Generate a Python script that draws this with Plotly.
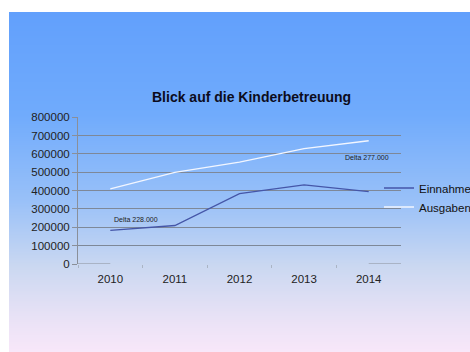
import plotly.graph_objects as go

years = ["2010", "2011", "2012", "2013", "2014"]
einnahmen = [183000, 210000, 384000, 431000, 395000]
ausgaben = [410000, 500000, 556000, 629000, 672000]
y_ticks = [0, 100000, 200000, 300000, 400000, 500000, 600000, 700000, 800000]
title_text = "Blick auf die Kinderbetreuung"
delta_texts = ["Delta 228.000", "Delta 277.000"]
delta_x = [0.02, 3.6]
delta_y = [240000, 581000]

W, H = 470, 352
FONT = "Liberation Sans, Arial, sans-serif"

# background gradient (top blue -> bottom pale pink)
grad_y = [i / 60 for i in range(61)]
grad_z = [[v, v] for v in grad_y]
grad_scale = [
    [0.0, "rgb(248,231,249)"],
    [0.1, "rgb(233,226,246)"],
    [0.25, "rgb(203,216,241)"],
    [0.45, "rgb(152,192,248)"],
    [0.7, "rgb(112,171,252)"],
    [1.0, "rgb(98,160,252)"],
]

fig = go.Figure()
fig.add_trace(go.Heatmap(
    x=[0, 1], y=grad_y, z=grad_z, colorscale=grad_scale, zsmooth="best",
    showscale=False, hoverinfo="skip", xaxis="x", yaxis="y", showlegend=False,
))

fig.add_trace(go.Scatter(
    x=years, y=einnahmen, mode="lines", name="Einnahmen",
    line=dict(color="#4556a8", width=1.3), xaxis="x2", yaxis="y2",
))
fig.add_trace(go.Scatter(
    x=years, y=ausgaben, mode="lines", name="Ausgaben",
    line=dict(color="#f2f6ff", width=1.3), xaxis="x2", yaxis="y2",
))

annotations = [
    dict(text=t, x=x, y=y, xref="x2", yref="y2", xanchor="left", yanchor="middle",
         showarrow=False, font=dict(family=FONT, size=7, color="#222222"))
    for t, x, y in zip(delta_texts, delta_x, delta_y)
]
annotations.append(dict(
    text="<b>" + title_text + "</b>", x=251 / W, y=1 - 97 / H, xref="paper", yref="paper",
    xanchor="center", yanchor="middle", showarrow=False,
    font=dict(family=FONT, size=14, color="#0c0c1c"),
))

axis_col = "#8a8f99"
shapes = [
    dict(type="line", xref="x2", yref="y2", x0=-0.5, x1=0, y0=0, y1=0,
         line=dict(color=axis_col, width=1)),
    dict(type="line", xref="x2", yref="y2", x0=4, x1=4.5, y0=0, y1=0,
         line=dict(color=axis_col, width=1)),
]

fig.update_layout(
    width=W, height=H, autosize=False,
    margin=dict(l=0, r=0, t=0, b=0, autoexpand=False),
    paper_bgcolor="white",
    plot_bgcolor="rgba(0,0,0,0)",
    font=dict(family=FONT, size=11.5, color="#222222"),
    xaxis=dict(domain=[9 / W, 1], range=[0, 1], visible=False, fixedrange=True),
    yaxis=dict(domain=[0, 1 - 12 / H], range=[0, 1], visible=False, fixedrange=True),
    xaxis2=dict(
        domain=[78 / W, 401 / W], anchor="y2", type="category",
        range=[-0.5, 4.5], tickson="boundaries", ticks="outside", ticklen=3,
        tickcolor="#aab4c4", showgrid=False, showline=False, zeroline=False,
        ticklabelstandoff=6,
        tickfont=dict(family=FONT, size=11.5, color="#222222"),
    ),
    yaxis2=dict(
        domain=[1 - 264 / H, 1 - 117.3 / H], anchor="x2",
        range=[0, 800000], tickvals=y_ticks, ticktext=[str(v) for v in y_ticks],
        ticks="outside", ticklen=5, tickcolor=axis_col,
        showline=True, linecolor=axis_col, linewidth=1,
        showgrid=True, gridcolor="#7e8898", gridwidth=1, zeroline=False,
        tickfont=dict(family=FONT, size=11.5, color="#222222"),
    ),
    legend=dict(
        x=379 / W, y=1 - 197.5 / H, xanchor="left", yanchor="middle",
        bgcolor="rgba(0,0,0,0)", font=dict(family=FONT, size=11.5, color="#111111"),
        tracegroupgap=0, itemwidth=30,
    ),
    annotations=annotations,
    shapes=shapes,
)

fig.write_html("out.html", config={"responsive": False})
